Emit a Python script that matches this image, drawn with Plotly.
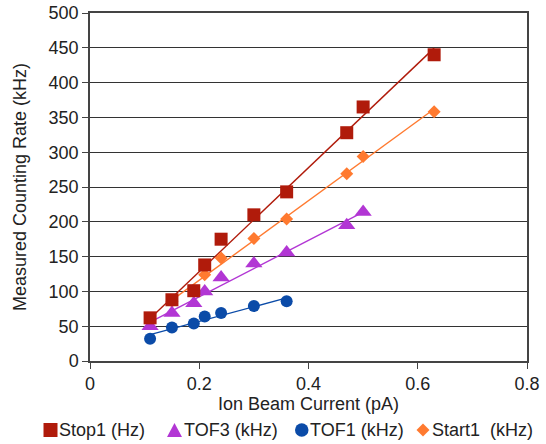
import numpy as np
import plotly.graph_objects as go

# Ion beam current (pA) and measured counting rates per detector channel
stop1_x = [0.11, 0.15, 0.19, 0.21, 0.24, 0.30, 0.36, 0.47, 0.50, 0.63]
stop1_y = [62, 88, 101, 138, 175, 210, 243, 328, 365, 440]

tof3_x = [0.11, 0.15, 0.19, 0.21, 0.24, 0.30, 0.36, 0.47, 0.50]
tof3_y = [50, 69, 83, 100, 120, 140, 156, 195, 214]

tof1_x = [0.11, 0.15, 0.19, 0.21, 0.24, 0.30, 0.36]
tof1_y = [32, 48, 54, 64, 69, 79, 86]

start1_x = [0.15, 0.19, 0.21, 0.24, 0.30, 0.36, 0.47, 0.50, 0.63]
start1_y = [86, 101, 124, 148, 176, 204, 269, 294, 358]

series_names = ["Stop1 (Hz)", "TOF3 (kHz)", "TOF1 (kHz)", "Start1  (kHz)"]

x_ticks = [0, 0.2, 0.4, 0.6, 0.8]
x_tick_text = ["0", "0.2", "0.4", "0.6", "0.8"]
y_ticks = [0, 50, 100, 150, 200, 250, 300, 350, 400, 450, 500]

COL_STOP1 = "#B01B0B"
COL_TOF3 = "#B236D4"
COL_TOF1 = "#0B4BA8"
COL_START1 = "#FF7A30"

FONT = "Liberation Sans, Arial, sans-serif"
TEXT_COL = "#222222"

# Figure geometry (pixels)
W, H = 546, 444
ML, MR, MT, MB = 90, 19, 13, 83
PW, PH = W - ML - MR, H - MT - MB


def px(xp):
    """Horizontal pixel -> paper coordinate."""
    return (xp - ML) / PW


def py(yp):
    """Vertical pixel (from top) -> paper coordinate."""
    return (H - MB - yp) / PH


# Drawing order: Start1 at the bottom, Stop1 on top
series = [
    (series_names[3], start1_x, start1_y, "diamond", 10, COL_START1),
    (series_names[2], tof1_x, tof1_y, "circle", 12, COL_TOF1),
    (series_names[1], tof3_x, tof3_y, "triangle-up", 15, COL_TOF3),
    (series_names[0], stop1_x, stop1_y, "square", 13, COL_STOP1),
]

fig = go.Figure()

# Linear trend lines under the markers
for name, xs, ys, sym, size, col in series:
    slope, icpt = np.polyfit(xs, ys, 1)
    lx = np.array([min(xs), max(xs)])
    fig.add_trace(go.Scatter(
        x=lx, y=slope * lx + icpt, mode="lines",
        line=dict(color=col, width=1.4),
        showlegend=False, hoverinfo="skip",
    ))

for name, xs, ys, sym, size, col in series:
    fig.add_trace(go.Scatter(
        x=xs, y=ys, mode="markers", name=name, showlegend=False,
        marker=dict(symbol=sym, size=size, color=col, line=dict(width=0)),
    ))

# Compact legend row below the axis: symbol shape followed by its label
LEG_Y = 430
legend_items = [
    ("square", COL_STOP1, 43.5, 57.5, 59),
    ("triangle", COL_TOF3, 167, 182, 183.5),
    ("circle", COL_TOF1, 295, 308.5, 310),
    ("diamond", COL_START1, 416.5, 429.5, 431.5),
]
shapes = []
annotations = []
for (kind, col, x0, x1, tx), label in zip(legend_items, series_names):
    xc = (x0 + x1) / 2
    half = (x1 - x0) / 2
    if kind == "square":
        shapes.append(dict(type="rect", xref="paper", yref="paper",
                           x0=px(x0), x1=px(x1), y0=py(LEG_Y + half), y1=py(LEG_Y - half),
                           fillcolor=col, line=dict(width=0)))
    elif kind == "circle":
        shapes.append(dict(type="circle", xref="paper", yref="paper",
                           x0=px(x0), x1=px(x1), y0=py(LEG_Y + half), y1=py(LEG_Y - half),
                           fillcolor=col, line=dict(width=0)))
    elif kind == "triangle":
        path = "M {} {} L {} {} L {} {} Z".format(
            px(x0), py(LEG_Y + 7), px(x1), py(LEG_Y + 7), px(xc), py(LEG_Y - 7))
        shapes.append(dict(type="path", xref="paper", yref="paper", path=path,
                           fillcolor=col, line=dict(width=0)))
    else:
        path = "M {} {} L {} {} L {} {} L {} {} Z".format(
            px(x0), py(LEG_Y), px(xc), py(LEG_Y - 6.5), px(x1), py(LEG_Y), px(xc), py(LEG_Y + 6.5))
        shapes.append(dict(type="path", xref="paper", yref="paper", path=path,
                           fillcolor=col, line=dict(width=0)))
    annotations.append(dict(
        text=label.replace("  ", "&nbsp; "), xref="paper", yref="paper",
        x=px(tx - 2), y=py(LEG_Y), xanchor="left", yanchor="middle",
        showarrow=False, font=dict(family=FONT, size=18, color=TEXT_COL),
    ))

axis_font = dict(family=FONT, size=18, color=TEXT_COL)

fig.update_layout(
    width=W, height=H,
    margin=dict(l=ML, r=MR, t=MT, b=MB),
    paper_bgcolor="white", plot_bgcolor="white",
    font=axis_font,
    showlegend=False,
    shapes=shapes,
    annotations=annotations,
)

fig.update_xaxes(
    range=[0, 0.8], tickvals=x_ticks, ticktext=x_tick_text,
    showgrid=False, zeroline=False,
    showline=True, linecolor="#444444", linewidth=1.5, mirror=True,
    ticks="outside", ticklen=6, tickcolor="#444444",
    title=dict(text="Ion Beam Current (pA)", font=axis_font, standoff=1),
    tickfont=axis_font, automargin=False,
)
fig.update_yaxes(
    range=[0, 500], tickvals=y_ticks,
    showgrid=True, gridcolor="#333333", gridwidth=1.3, zeroline=False,
    showline=True, linecolor="#444444", linewidth=1.5, mirror=True,
    ticks="outside", ticklen=6, tickcolor="#444444",
    title=dict(text="Measured Counting Rate (kHz)", font=axis_font, standoff=17),
    tickfont=axis_font, automargin=False,
)

fig.write_html("out.html")
